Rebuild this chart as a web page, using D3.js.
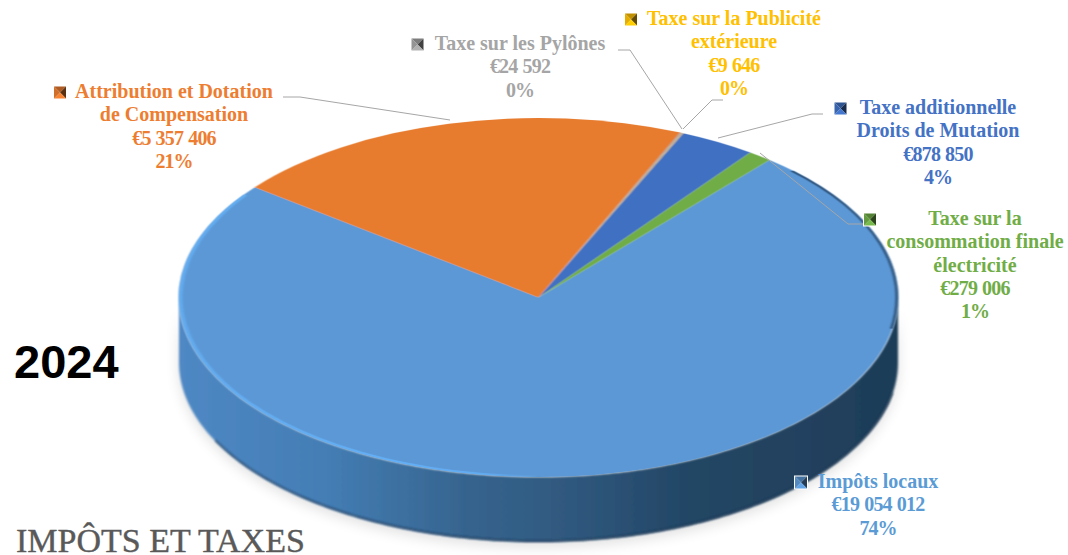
<!DOCTYPE html>
<html><head><meta charset="utf-8">
<script src="https://cdn.jsdelivr.net/npm/d3@7"></script>
<style>html,body{margin:0;padding:0;background:#fff;overflow:hidden}svg{display:block}</style>
</head><body><svg id="c" width="1068" height="555"></svg>
<script>
const categories = ["Impôts locaux","Attribution et Dotation de Compensation","Taxe sur les Pylônes","Taxe sur la Publicité extérieure","Taxe additionnelle Droits de Mutation","Taxe sur la consommation finale électricité"];
const values = [19054012,5357406,24592,9646,878850,279006];
const valueLabels = ["€19 054 012","€5 357 406","€24 592","€9 646","€878 850","€279 006"];
const percentLabels = ["74%","21%","0%","0%","4%","1%"];
const sliceColors = ["#5b98d6","#e77b2e","#a5a5a5","#ffc000","#3f70c2","#70ad47"];
const textColors = ["#5b9bd5","#ed7d31","#a5a5a5","#ffc000","#4472c4","#70ad47"];
const nameLines = [["Impôts locaux"],["Attribution et Dotation","de Compensation"],["Taxe sur les Pylônes"],["Taxe sur la Publicité","extérieure"],["Taxe additionnelle","Droits de Mutation"],["Taxe sur la","consommation finale","électricité"]];
const yearLabel = "2024";
const titleLabel = "IMPÔTS ET TAXES";

const labelLayout = [
  {cx:878,y:488,kx:801},
  {cx:174,y:98,kx:60},
  {cx:520,y:50,kx:417.5},
  {cx:734,y:25,kx:631},
  {cx:938,y:114,kx:840.5},
  {cx:975,y:225,kx:870}
];
const leaders = [null,
 [[283,97],[300,97],[450,120]],
 [[618,50],[630,50],[682,129]],
 [[723,100],[712,100],[683,129]],
 [[823,114],[812,114],[718,138]],
 [[760,153],[848,224],[863,224]]];

const svg = d3.select("#c");
const defs = svg.append("defs");
const cx=538.5, cy=297.5, rx=359.5, ry=179.5, depth=65;
const lineH=23.25;
const toRad = Math.PI/180;
const faceTransform = `translate(${cx},${cy}) scale(1,${ry/rx})`;

const sideG = defs.append("linearGradient").attr("id","side").attr("gradientUnits","userSpaceOnUse")
  .attr("x1",cx-rx).attr("x2",cx+rx).attr("y1",0).attr("y2",0);
[[0,"#4f88c4"],[.2,"#447eb5"],[.4,"#36648e"],[.55,"#2f587d"],[.7,"#234766"],[1,"#1f3d58"]]
  .forEach(s=>sideG.append("stop").attr("offset",s[0]).attr("stop-color",s[1]));
const rimG = defs.append("linearGradient").attr("id","rim").attr("gradientUnits","userSpaceOnUse")
  .attr("x1",-rx).attr("x2",0).attr("y1",0).attr("y2",0);
[[0,"#63aef2",.9],[.6,"#63b0f7",1],[.85,"#63b0f7",.8],[1,"#63b0f7",0]]
  .forEach(s=>rimG.append("stop").attr("offset",s[0]).attr("stop-color",s[1]).attr("stop-opacity",s[2]));
const soft = defs.append("filter").attr("id","soft").attr("x","-5%").attr("y","-5%").attr("width","110%").attr("height","110%");
soft.append("feGaussianBlur").attr("stdDeviation",0.9);
const glow = defs.append("filter").attr("id","glow").attr("x","-10%").attr("y","-10%").attr("width","120%").attr("height","120%");
glow.append("feGaussianBlur").attr("stdDeviation",7);

// side wall
const wall = d3.area().x(a=>cx+rx*Math.sin(a)).y0(a=>cy-ry*Math.cos(a)).y1(a=>cy-ry*Math.cos(a)+depth);
const wallAngles = d3.range(90,270.5,1).map(d=>d*toRad);
svg.append("path").attr("d",wall(wallAngles)).attr("fill","#000").attr("opacity",.12).attr("filter","url(#glow)").attr("transform","translate(0,5)");
svg.append("path").attr("d",wall(wallAngles)).attr("fill","url(#side)").attr("filter","url(#soft)");
// dark lower edge of the wall
const edge = d3.line().x(a=>cx+rx*Math.sin(a)).y(a=>cy-ry*Math.cos(a)+depth-1);
svg.append("path").attr("d",edge(d3.range(100,245,1).map(d=>d*toRad))).attr("fill","none")
  .attr("stroke","#1c3350").attr("stroke-width",1.5).attr("opacity",.8).attr("filter","url(#soft)");

// top face
const pie = d3.pie().sort(null).startAngle(40*toRad).endAngle(400*toRad)(values);
const arc = d3.arc().innerRadius(0).outerRadius(rx);
const face = svg.append("g").attr("transform",faceTransform).attr("filter","url(#soft)");
face.selectAll("path.slice").data(pie).join("path").attr("class","slice").attr("d",arc).attr("fill",(d,i)=>sliceColors[i]);
// bright bevel on the left, dark bevel on the right
const rimArc = d3.arc().innerRadius(rx-3.5).outerRadius(rx).startAngle(178*toRad).endAngle(305*toRad);
svg.append("path").attr("transform",faceTransform).attr("d",rimArc()).attr("fill","url(#rim)").attr("filter","url(#soft)");
const darkArc = d3.arc().innerRadius(rx-2.5).outerRadius(rx).startAngle(45*toRad).endAngle(100*toRad);
svg.append("path").attr("transform",faceTransform).attr("d",darkArc()).attr("fill","#2a4d73").attr("filter","url(#soft)");

// leaders
const ln = d3.line();
svg.append("g").selectAll("path").data(leaders.filter(Boolean)).join("path")
  .attr("d",ln).attr("fill","none").attr("stroke","#a6a6a6").attr("stroke-width",1);

// labels
const serif = "'Liberation Serif','DejaVu Serif',serif";
categories.forEach((c,i)=>{
  const L=labelLayout[i];
  const names=nameLines[i];
  const t=svg.append("text").attr("text-anchor","middle").attr("font-family",serif).attr("font-weight",700)
    .attr("font-size",20).attr("fill",textColors[i]);
  names.forEach((s,j)=>t.append("tspan").attr("x",L.cx).attr("y",L.y+j*lineH).text(s));
  t.append("tspan").attr("x",L.cx).attr("y",L.y+names.length*lineH)
    .attr("letter-spacing",-0.8).attr("word-spacing",0.8).text(valueLabels[i]);
  t.append("tspan").attr("x",L.cx).attr("y",L.y+(names.length+1)*lineH)
    .attr("letter-spacing",-1).text(percentLabels[i]);
  const s=12,k=L.kx-s/2,y=L.y-5.5-s/2,col=d3.color(sliceColors[i]);
  const g=svg.append("g");
  g.append("rect").attr("x",k-1).attr("y",y-1).attr("width",s+2).attr("height",s+2).attr("fill","#fff");
  const mx=k+s/2,my=y+s/2;
  [[[k,y],[k+s,y],col.darker(.8)],[[k+s,y],[k+s,y+s],col.darker(2.6)],[[k,y+s],[k+s,y+s],col.brighter(.2)],[[k,y],[k,y+s],col.darker(.3)]]
   .forEach(q=>g.append("path").attr("d",ln([q[0],q[1],[mx,my]])+"Z").attr("fill",q[2]));
});

svg.append("text").attr("x",14).attr("y",378).attr("font-family","'Liberation Sans',Arial,sans-serif").attr("font-weight",700).attr("font-size",47).attr("fill","#000").text(yearLabel);
svg.append("text").attr("x",16).attr("y",552).attr("font-family",serif).attr("font-size",34).attr("fill","#595959").attr("stroke","#595959").attr("stroke-width",.4).text(titleLabel);
</script></body></html>
